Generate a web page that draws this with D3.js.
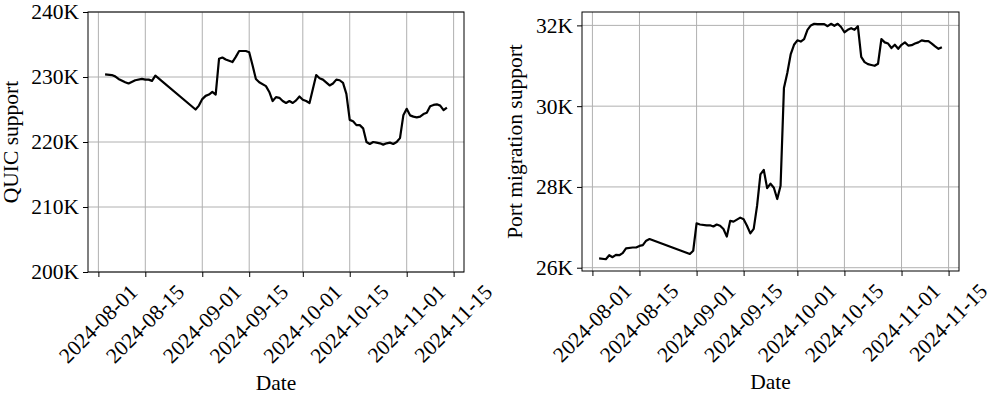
<!DOCTYPE html>
<html>
<head>
<meta charset="utf-8">
<script src="https://cdn.jsdelivr.net/npm/d3@7"></script>
<style>
  body { margin: 0; background: #fff; }
  text { font-family: "Liberation Serif", "Times New Roman", serif; fill: #000; }
</style>
</head>
<body>
<div id="chart"></div>
<script>
// Data
// ==============================
var quicDates = ["2024-08-03","2024-08-05","2024-08-06","2024-08-07","2024-08-09","2024-08-10","2024-08-12","2024-08-14","2024-08-15","2024-08-16","2024-08-17","2024-08-18",
  "2024-08-30","2024-08-31","2024-09-01","2024-09-02","2024-09-03","2024-09-04","2024-09-05","2024-09-06","2024-09-07","2024-09-08","2024-09-10","2024-09-11","2024-09-12","2024-09-14",
  "2024-09-15","2024-09-16","2024-09-17","2024-09-18","2024-09-20","2024-09-21","2024-09-22","2024-09-23","2024-09-24","2024-09-25","2024-09-26","2024-09-27","2024-09-28","2024-09-29",
  "2024-09-30","2024-10-01","2024-10-02","2024-10-03","2024-10-05","2024-10-06","2024-10-07","2024-10-09","2024-10-10","2024-10-11","2024-10-12","2024-10-13","2024-10-14","2024-10-15",
  "2024-10-16","2024-10-17","2024-10-18","2024-10-19","2024-10-20","2024-10-21","2024-10-22","2024-10-23","2024-10-24","2024-10-25","2024-10-26","2024-10-27","2024-10-28","2024-10-29",
  "2024-10-30","2024-10-31","2024-11-01","2024-11-02","2024-11-03","2024-11-04","2024-11-05","2024-11-06","2024-11-07","2024-11-08","2024-11-09","2024-11-10","2024-11-11","2024-11-12","2024-11-13"];
var quicValues = [230400,230300,230100,229700,229200,229000,229500,229700,229600,229600,229400,230200,
  225000,225600,226600,227100,227300,227700,227300,232800,233000,232700,232300,233100,234000,234000,
  233800,231800,229700,229200,228600,227700,226300,226900,226800,226300,226000,226300,226000,226400,
  227000,226500,226300,226000,230300,229800,229600,228700,229000,229600,229500,229100,227400,223400,
  223200,222600,222600,222100,220000,219700,220000,219900,219800,219600,219800,219900,219700,220000,
  220600,224100,225100,224100,223900,223800,223900,224300,224500,225500,225700,225800,225600,224900,225300];

var portDates = ["2024-08-03","2024-08-05","2024-08-06","2024-08-07","2024-08-08","2024-08-09","2024-08-10","2024-08-11","2024-08-13","2024-08-14","2024-08-15","2024-08-16","2024-08-17","2024-08-18",
  "2024-08-30","2024-08-31","2024-09-01","2024-09-02","2024-09-04","2024-09-05","2024-09-06","2024-09-07","2024-09-08","2024-09-09","2024-09-10","2024-09-11","2024-09-12","2024-09-13",
  "2024-09-14","2024-09-15","2024-09-16","2024-09-17","2024-09-18","2024-09-19","2024-09-20","2024-09-21","2024-09-22","2024-09-23","2024-09-24","2024-09-25","2024-09-26","2024-09-27",
  "2024-09-28","2024-09-29","2024-09-30","2024-10-01","2024-10-02","2024-10-03","2024-10-04","2024-10-05","2024-10-06","2024-10-07","2024-10-09","2024-10-10","2024-10-11","2024-10-12",
  "2024-10-13","2024-10-14","2024-10-15","2024-10-16","2024-10-17","2024-10-18","2024-10-19","2024-10-20","2024-10-21","2024-10-22","2024-10-23","2024-10-24","2024-10-25","2024-10-26",
  "2024-10-27","2024-10-28","2024-10-29","2024-10-30","2024-10-31","2024-11-01","2024-11-02","2024-11-03","2024-11-04","2024-11-05","2024-11-06","2024-11-07","2024-11-08","2024-11-09",
  "2024-11-10","2024-11-11","2024-11-12","2024-11-13"];
var portValues = [26230,26210,26310,26260,26320,26310,26360,26480,26500,26500,26540,26560,26670,26710,
  26340,26420,27100,27070,27050,27050,27020,27070,27040,26960,26770,27160,27140,27190,
  27240,27200,27040,26850,26960,27530,28310,28420,27970,28080,27980,27700,28030,30450,
  30820,31280,31520,31630,31600,31660,31890,32000,32040,32030,32030,31980,32040,31990,
  32040,31960,31830,31890,31930,31890,31980,31220,31090,31040,31020,31000,31050,31660,
  31580,31550,31440,31520,31420,31520,31580,31500,31510,31550,31580,31630,31610,31610,
  31550,31480,31420,31460];

var xTickLabels = ["2024-08-01","2024-08-15","2024-09-01","2024-09-15","2024-10-01","2024-10-15","2024-11-01","2024-11-15"];
var quicTicks = [200000, 210000, 220000, 230000, 240000];
var portTicks = [26000, 28000, 30000, 32000];

var svgWidth = 997;
var svgHeight = 399;
var fontSize = 21.5;
var serif = "'Liberation Serif', 'Times New Roman', serif";

var parseDate = d3.timeParse("%Y-%m-%d");

var svg = d3.select("#chart").append("svg")
    .attr("width", svgWidth)
    .attr("height", svgHeight)
    .style("display", "block");

// pad a domain by 5% each side, like matplotlib
function padded(extent) {
  var span = extent[1] - extent[0];
  return [extent[0] - span * 0.05, extent[1] + span * 0.05];
}

function drawPanel(p) {
  var width = p.right - p.left;
  var height = p.bottom - p.top;
  var dates = p.dates.map(parseDate);
  var rows = dates.map(function(d, i) { return { date: d, value: p.values[i] }; });

  var g = svg.append("g")
    .attr("transform", `translate(${p.left}, ${p.top})`);

  // Scales
  //==================
  var xExt = padded(d3.extent(dates, d => +d));
  var xScale = d3.scaleTime()
    .domain([new Date(xExt[0]), new Date(xExt[1])])
    .range([0, width]);

  var yScale = d3.scaleLinear()
    .domain(p.yDomain || padded(d3.extent(p.values)))
    .range([height, 0]);

  var tickDates = xTickLabels.map(parseDate);

  // Grid
  //==================
  g.append("g").selectAll("line")
    .data(tickDates)
    .enter()
    .append("line")
    .attr("x1", d => xScale(d))
    .attr("x2", d => xScale(d))
    .attr("y1", 0)
    .attr("y2", height)
    .attr("stroke", "#b0b0b0")
    .attr("stroke-width", 1);

  g.append("g").selectAll("line")
    .data(p.yTicks)
    .enter()
    .append("line")
    .attr("x1", 0)
    .attr("x2", width)
    .attr("y1", d => yScale(d))
    .attr("y2", d => yScale(d))
    .attr("stroke", "#b0b0b0")
    .attr("stroke-width", 1);

  // Line
  //==================
  var line = d3.line()
    .x(d => xScale(d.date))
    .y(d => yScale(d.value));

  g.append("path")
    .datum(rows)
    .attr("d", line)
    .attr("fill", "none")
    .attr("stroke", "#000")
    .attr("stroke-width", 2.2)
    .attr("stroke-linejoin", "round");

  // Axes
  //==================
  var xAxis = d3.axisBottom(xScale)
    .tickValues(tickDates)
    .tickSize(5)
    .tickFormat("");
  var yAxis = d3.axisLeft(yScale)
    .tickValues(p.yTicks)
    .tickSize(5)
    .tickPadding(4)
    .tickFormat(d => (d / 1000) + "K");

  var xg = g.append("g")
    .attr("transform", `translate(0, ${height})`)
    .call(xAxis);
  var yg = g.append("g").call(yAxis);

  [xg, yg].forEach(function(a) {
    a.attr("font-family", serif);
    a.select(".domain").remove();
    a.selectAll("line").attr("stroke", "#000").attr("stroke-width", 1);
  });
  yg.selectAll("text")
    .style("font-size", fontSize + "px")
    .style("font-family", serif);

  // frame
  g.append("rect")
    .attr("width", width)
    .attr("height", height)
    .attr("fill", "none")
    .attr("stroke", "#000")
    .attr("stroke-width", 1);

  // rotated date labels, centred on the tick
  var labels = g.append("g").selectAll("text")
    .data(tickDates)
    .enter()
    .append("text")
    .style("font-size", fontSize + "px")
    .style("font-family", serif)
    .attr("text-anchor", "middle")
    .attr("dy", "0.32em")
    .text((d, i) => xTickLabels[i]);

  labels.attr("transform", function(d) {
    var len = this.getComputedTextLength();
    var half = (len + fontSize) * Math.SQRT1_2 / 2;
    return `translate(${xScale(d)}, ${height + 9 + half}) rotate(-45)`;
  });

  // Axis titles
  //==================
  g.append("text")
    .attr("x", width / 2)
    .attr("y", height + 118)
    .attr("text-anchor", "middle")
    .style("font-size", fontSize + "px")
    .style("font-family", serif)
    .text("Date");

  svg.append("text")
    .attr("transform", `translate(${p.yLabelX}, ${p.top + height / 2}) rotate(-90)`)
    .attr("text-anchor", "middle")
    .style("font-size", fontSize + "px")
    .style("font-family", serif)
    .text(p.yLabel);
}

drawPanel({
  left: 88, right: 464, top: 12, bottom: 272,
  dates: quicDates, values: quicValues,
  yDomain: [200000, 240000], yTicks: quicTicks,
  yLabel: "QUIC support", yLabelX: 18
});

drawPanel({
  left: 582, right: 959, top: 12, bottom: 271,
  dates: portDates, values: portValues,
  yTicks: portTicks,
  yLabel: "Port migration support", yLabelX: 522
});
</script>
</body>
</html>
